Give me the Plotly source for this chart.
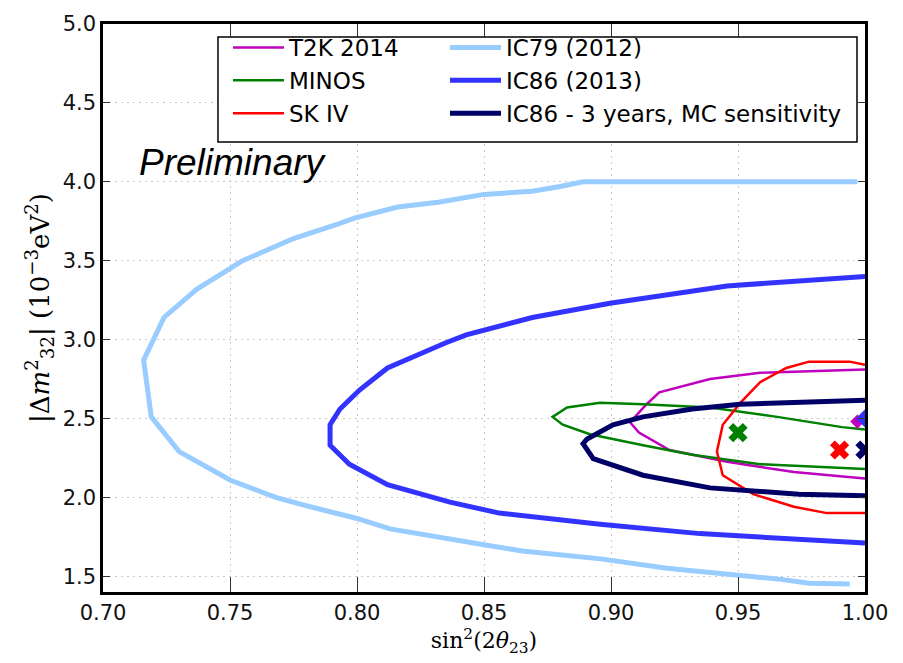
import plotly.graph_objects as go

# Allowed-region contours in the (sin^2(2θ23), |Δm^2_32|) plane.
# Each curve starts on the right edge (upper branch) and wraps back to it.
t2k_x = [1.0, 0.9587, 0.939, 0.919, 0.914, 0.9075, 0.911, 0.923, 0.9457, 0.972, 1.0]
t2k_y = [2.81, 2.79, 2.75, 2.665, 2.59, 2.475, 2.41, 2.30, 2.225, 2.16, 2.12]

minos_x = [1.0, 0.991, 0.9654, 0.939, 0.9126, 0.8957, 0.8827, 0.877, 0.881, 0.8917,
           0.9126, 0.932, 0.9587, 0.985, 1.0]
minos_y = [2.43, 2.445, 2.51, 2.57, 2.59, 2.60, 2.57, 2.51, 2.46, 2.40,
           2.33, 2.27, 2.21, 2.19, 2.18]

sk_x = [1.0, 0.994, 0.978, 0.969, 0.9587, 0.951, 0.944, 0.9417, 0.944, 0.956,
        0.972, 0.985, 1.0]
sk_y = [2.84, 2.86, 2.86, 2.82, 2.73, 2.60, 2.46, 2.29, 2.14, 2.02,
        1.94, 1.90, 1.90]

ic79_x = [0.997, 0.95, 0.889, 0.880, 0.869, 0.850, 0.832, 0.816, 0.799, 0.793,
          0.775, 0.755, 0.737, 0.724, 0.716, 0.719, 0.730, 0.750, 0.768, 0.778,
          0.800, 0.813, 0.837, 0.850, 0.865, 0.896, 0.922, 0.950, 0.967, 0.978, 0.994]
ic79_y = [4.00, 4.00, 4.00, 3.97, 3.94, 3.92, 3.87, 3.84, 3.77, 3.735,
          3.64, 3.50, 3.32, 3.14, 2.87, 2.51, 2.29, 2.11, 2.00, 1.955,
          1.866, 1.80, 1.73, 1.70, 1.66, 1.61, 1.55, 1.51, 1.48, 1.455, 1.45]

ic86_x = [1.0, 0.9457, 0.8996, 0.880, 0.869, 0.843, 0.835, 0.8236, 0.817, 0.812,
          0.801, 0.7933, 0.7894, 0.7894, 0.797, 0.812, 0.8366, 0.856, 0.8957, 0.935, 1.0]
ic86_y = [3.40, 3.34, 3.23, 3.17, 3.14, 3.03, 2.98, 2.90, 2.85, 2.82,
          2.68, 2.56, 2.46, 2.33, 2.21, 2.08, 1.97, 1.90, 1.83, 1.77, 1.71]

ic86mc_x = [1.0, 0.9508, 0.932, 0.9126, 0.9008, 0.8906, 0.889, 0.893, 0.9126,
            0.939, 0.974, 1.0]
ic86mc_y = [2.615, 2.59, 2.56, 2.51, 2.46, 2.37, 2.34, 2.245, 2.14,
            2.06, 2.02, 2.01]

# Best-fit points
best_x = [0.997, 1.0, 0.95, 0.99, 1.0]
best_y = [2.48, 2.50, 2.41, 2.30, 2.30]
best_symbol = ["diamond", "diamond", "x", "x", "x"]
best_color = ["#bf00bf", "#3333ff", "#008000", "#ff0000", "#000066"]
best_size = [11, 14, 17, 17, 17]

x_ticks = [0.70, 0.75, 0.80, 0.85, 0.90, 0.95, 1.00]
y_ticks = [1.5, 2.0, 2.5, 3.0, 3.5, 4.0, 4.5, 5.0]

series = [
    ("T2K 2014", t2k_x, t2k_y, "#bf00bf", 2.5, "legend"),
    ("MINOS", minos_x, minos_y, "#008000", 2.5, "legend"),
    ("SK IV", sk_x, sk_y, "#ff0000", 2.5, "legend"),
    ("IC79 (2012)", ic79_x, ic79_y, "#99ccff", 5, "legend2"),
    ("IC86 (2013)", ic86_x, ic86_y, "#3333ff", 5, "legend2"),
    ("IC86 - 3 years, MC sensitivity", ic86mc_x, ic86mc_y, "#000066", 5, "legend2"),
]

fig = go.Figure()
for name, xs, ys, color, width, leg in series:
    fig.add_trace(go.Scatter(
        x=xs, y=ys, mode="lines", name=name, legend=leg, legendgroup=name,
        line=dict(color=color, width=width),
    ))

fig.add_trace(go.Scatter(
    x=best_x, y=best_y, mode="markers", showlegend=False,
    marker=dict(symbol=best_symbol, color=best_color, size=best_size,
                opacity=1, line=dict(width=0)),
))

axis_common = dict(
    showline=True, linecolor="black", linewidth=2.5, mirror="ticks",
    ticks="inside", tickwidth=1, tickcolor="#333333",
    showgrid=True, gridcolor="#c8c8c8", gridwidth=1, griddash="2px,4px",
    zeroline=False,
    tickfont=dict(family="DejaVu Sans", size=21, color="#111111"),
)

legend_common = dict(
    xanchor="left", y=0.9965, yanchor="top",
    bgcolor="rgba(0,0,0,0)", borderwidth=0, itemwidth=51, tracegroupgap=0,
    font=dict(family="DejaVu Sans", size=23, color="black"),
)

fig.update_layout(
    width=903, height=663,
    margin=dict(l=103, r=38, t=19, b=71),
    paper_bgcolor="white", plot_bgcolor="white",
    xaxis=dict(range=[0.70, 1.00], tickvals=x_ticks, tickformat=".2f", ticklen=15,
               title=dict(text="sin<sup>2</sup>(2<i>θ</i><sub>23</sub>)",
                          font=dict(family="DejaVu Serif", size=22, color="black"),
                          standoff=0),
               **axis_common),
    yaxis=dict(range=[1.4, 5.0], tickvals=y_ticks, tickformat=".1f", ticklen=7,
               title=dict(text="|Δ<i>m</i><sup>2</sup><sub>32</sub>| (10<sup>−3</sup>eV<sup>2</sup>)",
                          font=dict(family="DejaVu Serif", size=26, color="black"),
                          standoff=6),
               **axis_common),
    legend=dict(x=0.164, **legend_common),
    legend2=dict(x=0.4488, **legend_common),
    shapes=[dict(type="rect", xref="paper", yref="paper",
                 x0=0.1509, x1=0.9895, y0=0.7923, y1=0.9773,
                 line=dict(color="black", width=1.5), fillcolor="white", layer="above")],
    annotations=[dict(text="Preliminary", xref="paper", yref="paper",
                      x=0.0446, y=0.756, xanchor="left", yanchor="middle", showarrow=False,
                      font=dict(family="Liberation Sans", size=37, color="black", style="italic"))],
)

fig.write_html("out.html")
